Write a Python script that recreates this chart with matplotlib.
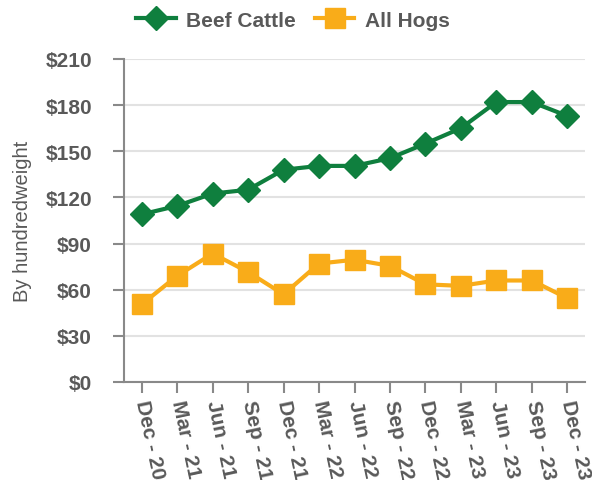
import matplotlib.pyplot as plt
from matplotlib.ticker import FuncFormatter

quarters = ["Dec - 20", "Mar - 21", "Jun - 21", "Sep - 21", "Dec - 21", "Mar - 22", "Jun - 22",
            "Sep - 22", "Dec - 22", "Mar - 23", "Jun - 23", "Sep - 23", "Dec - 23"]
beef_cattle = [109, 114.5, 122.5, 125, 138, 140.5, 140.5, 145.5, 155, 165, 182, 182, 173]
all_hogs = [50.5, 69, 83.5, 71.5, 57, 77, 79.5, 75.5, 63.5, 62.5, 66, 66, 54.5]

GREEN = "#0F7F3E"
ORANGE = "#F9AC19"
TEXT = "#595959"
AXIS = "#898989"

plt.rcParams['font.family'] = ['Liberation Sans', 'DejaVu Sans']

fig = plt.figure(figsize=(5.92, 4.81), dpi=100)
ax = fig.add_axes([124 / 592, 1 - 383 / 481, (585 - 124) / 592, (383 - 60) / 481])

x = list(range(len(quarters)))
ax.plot(x, beef_cattle, color=GREEN, lw=3, marker='D', markersize=12, label="Beef Cattle", zorder=3)
ax.plot(x, all_hogs, color=ORANGE, lw=3, marker='s', markersize=14, label="All Hogs", zorder=3)

ax.set_xlim(-0.5, len(quarters) - 0.5)
ax.set_ylim(0, 210)
ax.set_yticks(range(0, 211, 30))
ax.yaxis.set_major_formatter(FuncFormatter(lambda v, p: f"${v:.0f}"))
ax.grid(axis='y', color="#e2e2e2", lw=1.5)
ax.set_axisbelow(True)

for side in ['top', 'right']:
    ax.spines[side].set_visible(False)
for side in ['left', 'bottom']:
    ax.spines[side].set_color(AXIS)
    ax.spines[side].set_linewidth(1.5)

ax.tick_params(axis='y', length=8, width=1.5, color=AXIS, labelsize=15, labelcolor=TEXT, pad=15)
ax.tick_params(axis='x', length=8, width=1.5, color=AXIS, labelsize=15, labelcolor=TEXT, pad=5)
for lbl in ax.get_yticklabels():
    lbl.set_fontweight('bold')

ax.set_xticks(x)
ax.set_xticklabels(quarters, rotation=-78, ha='left', va='center', rotation_mode='anchor', fontweight='bold')

ax.set_ylabel("By hundredweight", fontsize=14.5, color=TEXT, labelpad=10)

leg = fig.legend(loc='upper center', bbox_to_anchor=(0.495, 1.015), ncol=2, frameon=False,
                 prop={'size': 15, 'weight': 'bold'}, handlelength=1.9, columnspacing=0.9,
                 handletextpad=0.5)
for t in leg.get_texts():
    t.set_color(TEXT)

fig.savefig("out.png", dpi=100)
